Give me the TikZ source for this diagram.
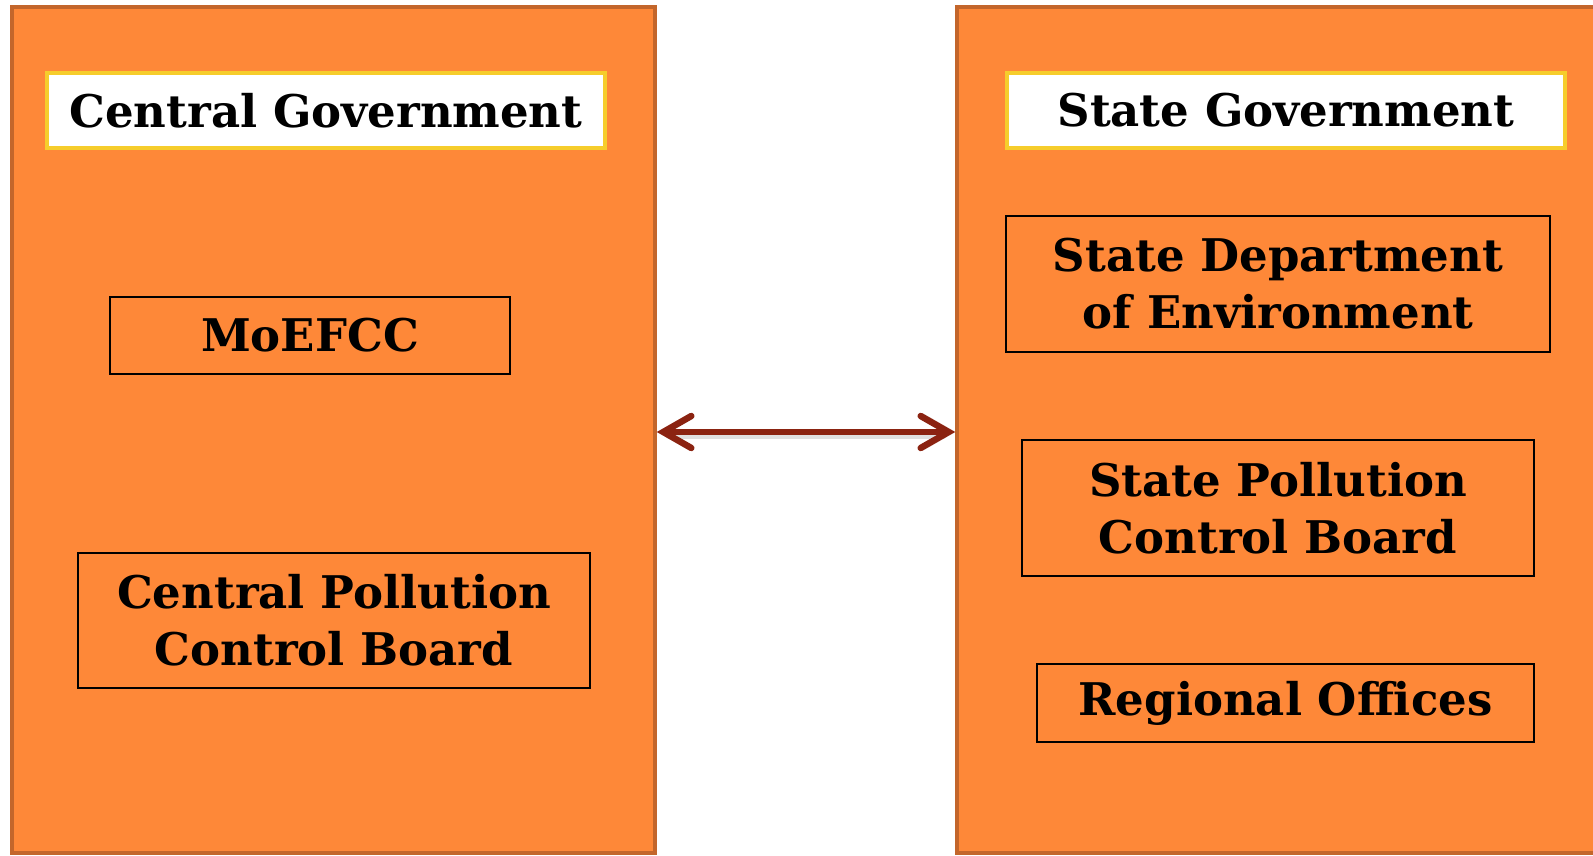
\documentclass[tikz,border=0pt]{standalone}
\usepackage{fontspec}
\setmainfont{DejaVu Serif}
\usetikzlibrary{arrows.meta}
\definecolor{panelfill}{HTML}{FE8838}
\definecolor{paneledge}{HTML}{C3662B}
\definecolor{titleedge}{HTML}{F6CD2C}
\definecolor{linkred}{HTML}{8B2311}
\tikzset{
  panel/.style={draw=paneledge, fill=panelfill, line width=3.5pt, rectangle, inner sep=0pt},
  titlebox/.style={draw=titleedge, fill=white, line width=4.5pt, minimum width=558pt, minimum height=75pt,
    inner sep=0pt, font=\fontsize{45}{56}\selectfont\bfseries},
  unitbox/.style={draw=black, line width=1.6pt, inner sep=0pt, align=center,
    font=\fontsize{45}{57}\selectfont\bfseries},
  barbtip/.tip={Straight Barb[length=28pt, width=32pt, line width=6.5pt, line cap=round]},
  link/.style={draw=linkred, line width=6.5pt, line cap=round, {barbtip}-{barbtip}},
  linkshade/.style={draw=black, line width=7pt, opacity=0.12, line cap=round}
}
\begin{document}
\begin{tikzpicture}[x=1pt, y=-1pt]
  \useasboundingbox (0,0) rectangle (1593,856);
  \clip (0,0) rectangle (1593,856);

  % the two tiers of government
  \node[panel, minimum width=643pt, minimum height=846pt] (central) at (333.5,430) {};
  \node[panel, minimum width=653pt, minimum height=846pt] (state) at (1283.5,430) {};

  % headings
  \node[titlebox] (cgtitle) at (326,110.5) {Central Government};
  \node[titlebox] (sgtitle) at (1286,110.5) {State Government};

  % central bodies
  \node[unitbox, minimum width=400pt, minimum height=77pt] (moefcc) at (310,335.5) {MoEFCC};
  \node[unitbox, minimum width=512pt, minimum height=135pt] (cpcb) at (334,620.5) {Central Pollution\\Control Board};

  % state bodies
  \node[unitbox, minimum width=544pt, minimum height=136pt] (sde) at (1278,284) {State Department\\of Environment};
  \node[unitbox, minimum width=512pt, minimum height=136pt] (spcb) at (1278,508) {State Pollution\\Control Board};
  \node[unitbox, minimum width=497pt, minimum height=78pt] (ro) at (1285.5,703) {Regional Offices};

  % two-way link between the tiers, with a faint drop shadow
  \draw[linkshade] ([shift={(12,5)}]central.east) -- ([shift={(-12,5)}]state.west);
  \draw[link] ([yshift=-2pt]central.east) -- ([yshift=-2pt]state.west);
\end{tikzpicture}
\end{document}
